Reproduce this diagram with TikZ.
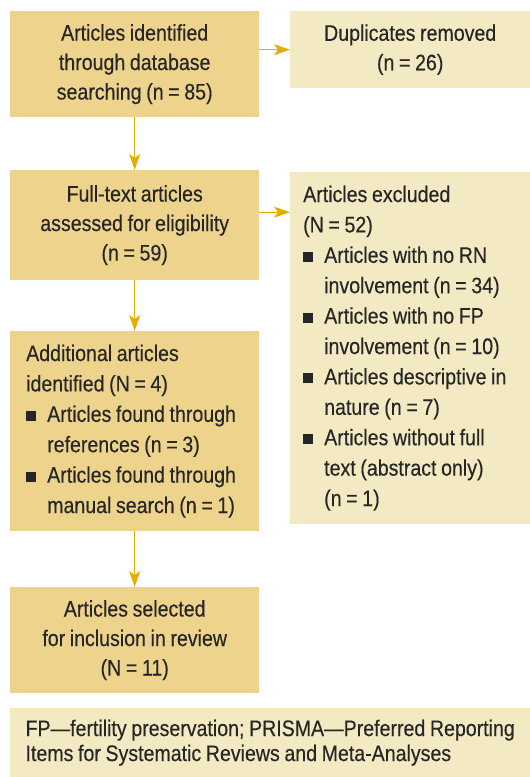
\documentclass[tikz,border=0pt]{standalone}
\usepackage{fontspec}
\setmainfont{Liberation Sans}[FakeStretch=0.87, WordSpace=0.85, FakeBold=0.3]
\usetikzlibrary{arrows.meta}

\definecolor{boxdark}{HTML}{EDD38C}
\definecolor{boxlight}{HTML}{F3EAC3}
\definecolor{arrowgold}{HTML}{E2B100}
\definecolor{textgray}{HTML}{262626}

\newcommand{\sqbullet}{\makebox[21pt][l]{\rule[1pt]{10pt}{10pt}}}
\newcommand{\indentline}{\hspace*{21pt}}

\begin{document}
\begin{tikzpicture}[x=1pt, y=-1pt,
  every node/.style = {font=\fontsize{22.5}{29.5}\selectfont, text=textgray, inner sep=0pt, anchor=north west},
  dark/.style = {fill=boxdark},
  light/.style = {fill=boxlight},
  flow/.style = {line width=1.3pt, draw=arrowgold, -{Stealth[length=16pt, width=11pt, inset=4pt, fill=arrowgold]}}
]
\useasboundingbox (0,0) rectangle (530,777);

% left column
\node[dark, minimum width=249pt, minimum height=106pt, align=center] (ident) at (10,11) {Articles identified\\through database\\searching (n = 85)};
\node[dark, minimum width=249pt, minimum height=110pt, align=center] (full) at (10,170) {Full-text articles\\assessed for eligibility\\(n = 59)};
\node[dark, text width=217pt, inner xsep=16pt, minimum height=200pt, align=flush left, font=\fontsize{22.5}{30.4}\selectfont] (addl) at (10,331) {Additional articles\\identified (N = 4)\\
\sqbullet Articles found through\\\indentline references (n = 3)\\
\sqbullet Articles found through\\\indentline manual search (n = 1)};
\node[dark, minimum width=249pt, minimum height=106pt, align=center] (sel) at (10,587) {Articles selected\\for inclusion in review\\(N = 11)};

% right column
\node[light, minimum width=240pt, minimum height=77pt, align=center] (dup) at (290,11) {Duplicates removed\\(n = 26)};
\node[light, text width=214pt, inner xsep=13pt, minimum height=352pt, align=flush left, font=\fontsize{22.5}{30.4}\selectfont] (excl) at (290,172) {Articles excluded\\(N = 52)\\
\sqbullet Articles with no RN\\\indentline involvement (n = 34)\\
\sqbullet Articles with no FP\\\indentline involvement (n = 10)\\
\sqbullet Articles descriptive in\\\indentline nature (n = 7)\\
\sqbullet Articles without full\\\indentline text (abstract only)\\\indentline (n = 1)};

% footnote
\node[light, minimum width=520pt, minimum height=69pt, align=left, font=\fontsize{22.5}{25}\selectfont] (note) at (10,708) {FP—fertility preservation; PRISMA—Preferred Reporting\\Items for Systematic Reviews and Meta-Analyses};

\draw[flow] (ident.south) -- (full.north);
\draw[flow] (full.south) -- (addl.north);
\draw[flow] (addl.south) -- (sel.north);
\draw[flow] (ident.east |- dup.west) -- (dup.west);
\draw[flow] ([yshift=13pt]full.east) -- ([yshift=13pt]full.east -| excl.west);
\end{tikzpicture}
\end{document}
